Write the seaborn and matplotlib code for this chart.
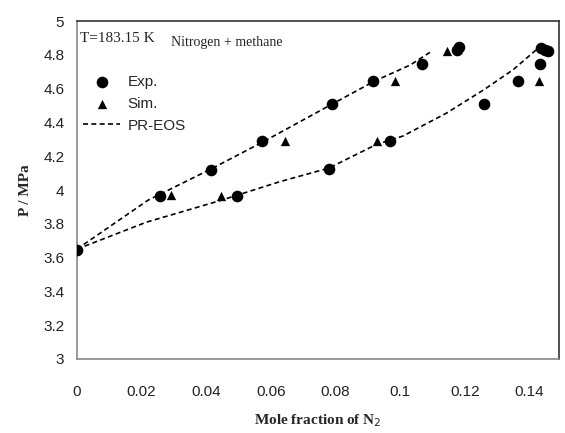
import pandas as pd
import seaborn as sns
import matplotlib.pyplot as plt

# experimental points
exp_x = [0.0, 0.0257, 0.0416, 0.0495, 0.0573, 0.0779, 0.0789, 0.0917, 0.0968,
         0.1066, 0.1174, 0.1181, 0.1259, 0.1363, 0.1433, 0.1436, 0.1447, 0.1457]
exp_p = [3.645, 3.966, 4.12, 3.966, 4.29, 4.124, 4.51, 4.644, 4.29,
         4.747, 4.832, 4.846, 4.51, 4.644, 4.747, 4.842, 4.832, 4.822]

# simulation points
sim_x = [0.029, 0.0447, 0.0643, 0.0927, 0.0985, 0.1145, 0.143]
sim_p = [3.97, 3.966, 4.29, 4.29, 4.644, 4.826, 4.644]

# PR-EOS, bubble (upper) and dew (lower) branches
eos_up_x = [0.0, 0.022, 0.042, 0.058, 0.079, 0.092, 0.103, 0.110]
eos_up_p = [3.65, 3.94, 4.13, 4.29, 4.51, 4.645, 4.74, 4.826]
eos_lo_x = [0.0, 0.0215, 0.0447, 0.0628, 0.0779, 0.0926, 0.1008, 0.1143, 0.1259, 0.1349, 0.142]
eos_lo_p = [3.65, 3.81, 3.94, 4.05, 4.13, 4.27, 4.32, 4.456, 4.595, 4.713, 4.83]

sns.set_style("white")
plt.rcParams['font.family'] = ['Liberation Sans', 'DejaVu Sans']

df_exp = pd.DataFrame({'x': exp_x, 'P': exp_p})
df_sim = pd.DataFrame({'x': sim_x, 'P': sim_p})
df_up = pd.DataFrame({'x': eos_up_x, 'P': eos_up_p})
df_lo = pd.DataFrame({'x': eos_lo_x, 'P': eos_lo_p})

fig, ax = plt.subplots(figsize=(5.65, 4.33), dpi=100)
fig.subplots_adjust(left=0.136, right=0.989, top=0.951, bottom=0.171)

sns.scatterplot(data=df_exp, x='x', y='P', marker='o', s=70, color='black',
                edgecolor='black', linewidth=0, label='Exp.', ax=ax, zorder=3)
sns.scatterplot(data=df_sim, x='x', y='P', marker='^', s=45, color='black',
                edgecolor='black', linewidth=0, label='Sim.', ax=ax, zorder=3)
sns.lineplot(data=df_up, x='x', y='P', color='black', linestyle=(0, (3, 2)),
             linewidth=1.2, sort=False, label='PR-EOS', ax=ax)
sns.lineplot(data=df_lo, x='x', y='P', color='black', linestyle=(0, (3, 2)),
             linewidth=1.2, sort=False, ax=ax)

ax.set_xlim(0, 0.149)
ax.set_ylim(3, 5)
ax.set_xticks([0, 0.02, 0.04, 0.06, 0.08, 0.1, 0.12, 0.14])
ax.set_xticklabels(['0', '0.02', '0.04', '0.06', '0.08', '0.1', '0.12', '0.14'])
ax.set_yticks([3, 3.2, 3.4, 3.6, 3.8, 4, 4.2, 4.4, 4.6, 4.8, 5])
ax.set_yticklabels(['3', '3.2', '3.4', '3.6', '3.8', '4', '4.2', '4.4', '4.6', '4.8', '5'])
ax.tick_params(axis='both', direction='out', length=5, width=1, color='#888888',
               labelsize=11, labelcolor='#222222')
ax.tick_params(axis='x', pad=14)
ax.tick_params(axis='y', pad=4)

for side in ['left', 'bottom']:
    ax.spines[side].set_color('#888888')
for side in ['top', 'right']:
    ax.spines[side].set_color('#333333')
for sp in ax.spines.values():
    sp.set_linewidth(1.2)

ax.set_xlabel('Mole fraction of N$_2$', family='Liberation Serif', fontweight='bold',
              fontsize=11, labelpad=9)
ax.set_ylabel('P / MPa', family='Liberation Serif', fontweight='bold', fontsize=11,
              labelpad=8)

ax.text(0.001, 4.9, 'T=183.15 K', family='Liberation Serif', fontsize=11, va='center')
ax.text(0.029, 4.876, 'Nitrogen + methane', family='Liberation Serif', fontsize=10,
        va='center')

ax.legend(loc='upper left', bbox_to_anchor=(-0.015, 0.88), frameon=False,
          fontsize=11, handlelength=2.4, labelspacing=0.5, handletextpad=0.5)

plt.savefig('out.png')
